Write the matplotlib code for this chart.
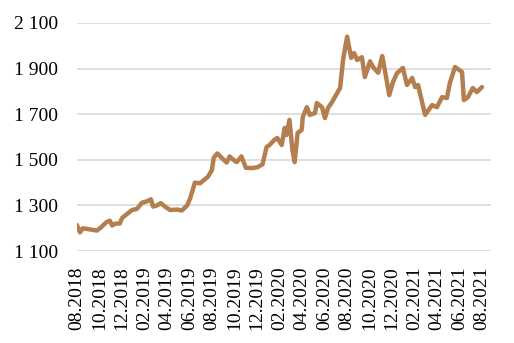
import matplotlib
matplotlib.use("Agg")
import matplotlib.pyplot as plt
import matplotlib.dates as mdates
import pandas as pd

dates = [
    "2018-08-01", "2018-08-09", "2018-08-17", "2018-09-05", "2018-09-24", "2018-10-02",
    "2018-10-21", "2018-10-29", "2018-11-04", "2018-11-12", "2018-11-25", "2018-12-01",
    "2018-12-14", "2018-12-28", "2019-01-10", "2019-01-24", "2019-02-06", "2019-02-17",
    "2019-02-23", "2019-03-05", "2019-03-16", "2019-03-27", "2019-04-10", "2019-04-29",
    "2019-05-12", "2019-05-26", "2019-06-03", "2019-06-16", "2019-06-30", "2019-07-13",
    "2019-07-21", "2019-08-01", "2019-08-06", "2019-08-16", "2019-08-28", "2019-09-10",
    "2019-09-18", "2019-09-26", "2019-10-07", "2019-10-20", "2019-11-01", "2019-11-20",
    "2019-12-03", "2019-12-16", "2019-12-27", "2020-01-04", "2020-01-17", "2020-01-25",
    "2020-02-06", "2020-02-14", "2020-02-19", "2020-02-27", "2020-03-06", "2020-03-12",
    "2020-03-20", "2020-03-31", "2020-04-03", "2020-04-14", "2020-04-22", "2020-05-06",
    "2020-05-11", "2020-05-25", "2020-06-02", "2020-06-10", "2020-06-21", "2020-07-05",
    "2020-07-13", "2020-07-21", "2020-08-01", "2020-08-12", "2020-08-20", "2020-08-28",
    "2020-09-10", "2020-09-18", "2020-10-02", "2020-10-10", "2020-10-24", "2020-11-04",
    "2020-11-12", "2020-11-23", "2020-12-03", "2020-12-14", "2020-12-30", "2021-01-10",
    "2021-01-24", "2021-02-01", "2021-02-09", "2021-02-28", "2021-03-19", "2021-04-01",
    "2021-04-15", "2021-04-28", "2021-05-06", "2021-05-20", "2021-06-08", "2021-06-13",
    "2021-06-24", "2021-07-07", "2021-07-18", "2021-08-01",
]
prices = [
    1214, 1182, 1200, 1195, 1190, 1200,
    1228, 1233, 1212, 1220, 1221, 1245,
    1262, 1280, 1285, 1312, 1318, 1327,
    1295, 1300, 1310, 1295, 1280, 1282,
    1278, 1300, 1330, 1400, 1397, 1415,
    1425, 1455, 1510, 1528, 1508, 1488,
    1515, 1503, 1490, 1515, 1465, 1464,
    1468, 1480, 1556, 1565, 1587, 1596,
    1565, 1640, 1609, 1675, 1543, 1490,
    1618, 1631, 1688, 1731, 1697, 1705,
    1749, 1731, 1683, 1727, 1753, 1793,
    1815, 1938, 2040, 1947, 1968, 1938,
    1950, 1863, 1932, 1907, 1882, 1955,
    1885, 1784, 1841, 1880, 1903, 1828,
    1859, 1819, 1828, 1697, 1740, 1731,
    1775, 1771, 1837, 1907, 1885, 1762,
    1775, 1815, 1797, 1819,
]
yticks = [1100, 1300, 1500, 1700, 1900, 2100]

x = pd.to_datetime(dates)

plt.rcParams['font.family'] = ['Liberation Serif', 'DejaVu Serif']
fig = plt.figure(figsize=(5.14, 3.43), dpi=100)
ax = fig.add_axes([0.1498, 0.268, 0.955 - 0.1498, 0.933 - 0.268])

ax.plot(x, prices, color='#B47E4F', linewidth=3.2, solid_joinstyle='round', solid_capstyle='round', zorder=3)

ax.set_ylim(1100, 2100)
ax.set_yticks(yticks)
ax.set_yticklabels([f"{v:,}".replace(",", " ") for v in yticks])
ax.set_xlim(pd.Timestamp("2018-08-01"), pd.Timestamp("2021-08-25"))
ticks = pd.date_range("2018-08-01", "2021-08-01", freq="2MS")
ax.set_xticks(ticks)
ax.set_xticklabels([t.strftime("%m.%Y") for t in ticks], rotation=90)

ax.grid(axis='y', color='#D9D9D9', linewidth=1.2, zorder=0)
ax.grid(axis='x', visible=False)
for s in ax.spines.values():
    s.set_visible(False)
ax.tick_params(axis='both', length=0, labelsize=14, colors='black')
ax.tick_params(axis='y', pad=13.5)
ax.tick_params(axis='x', pad=11)

fig.savefig("out.png", dpi=100)
